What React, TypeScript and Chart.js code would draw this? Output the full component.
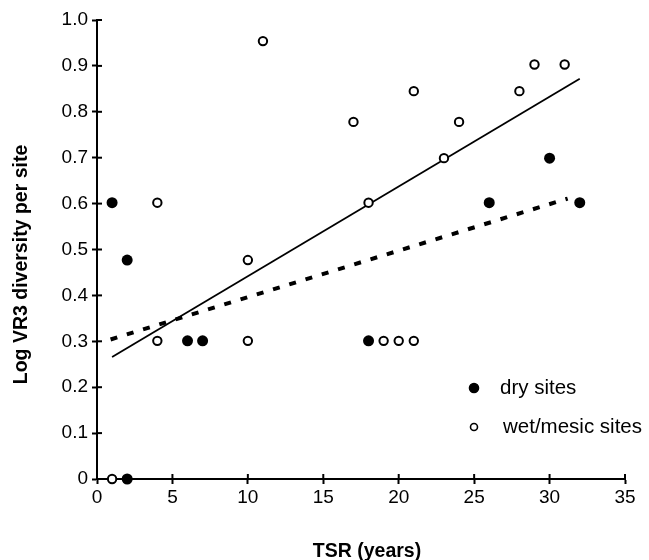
import React, { useEffect, useRef } from 'react';
import { Chart, registerables } from 'chart.js';

Chart.register(...registerables);

const dryX = [1, 2, 2, 6, 7, 18, 26, 30, 32];
const dryY = [0.602, 0.477, 0, 0.301, 0.301, 0.301, 0.602, 0.699, 0.602];
const wetX = [1, 4, 4, 10, 10, 11, 17, 18, 19, 20, 21, 21, 23, 24, 28, 29, 31];
const wetY = [0, 0.602, 0.301, 0.477, 0.301, 0.954, 0.778, 0.602, 0.301, 0.301, 0.301, 0.845, 0.699, 0.778, 0.845, 0.903, 0.903];
const allFitX = [1, 32];
const allFitY = [0.266, 0.872];
const dryFitX = [0.9, 31.2];
const dryFitY = [0.304, 0.611];
const seriesLabels = ['dry sites', 'wet/mesic sites'];
const xTitle = 'TSR (years)';
const yTitle = 'Log VR3 diversity per site';

const FONT = '"Liberation Sans", Arial, sans-serif';

const zip = (xs: number[], ys: number[]) => xs.map((x, i) => ({ x, y: ys[i] }));

const crossTicks = {
  id: 'crossTicks',
  afterDraw(chart: any) {
    const { ctx, chartArea, scales } = chart;
    ctx.save();
    ctx.strokeStyle = '#000';
    ctx.lineWidth = 2;
    scales.x.ticks.forEach((t: any) => {
      const px = scales.x.getPixelForValue(t.value);
      ctx.beginPath();
      ctx.moveTo(px, chartArea.bottom);
      ctx.lineTo(px, chartArea.bottom - 5);
      ctx.stroke();
    });
    scales.y.ticks.forEach((t: any) => {
      const py = scales.y.getPixelForValue(t.value);
      ctx.beginPath();
      ctx.moveTo(chartArea.left, py);
      ctx.lineTo(chartArea.left + 5, py);
      ctx.stroke();
    });
    ctx.restore();
  },
};

const axisTitles = {
  id: 'axisTitles',
  afterDraw(chart: any) {
    const { ctx, chartArea } = chart;
    ctx.save();
    ctx.fillStyle = '#000';
    ctx.font = `bold 19.5px ${FONT}`;
    ctx.textAlign = 'center';
    ctx.textBaseline = 'alphabetic';
    ctx.fillText(xTitle, (chartArea.left + chartArea.right) / 2 + 6, chartArea.bottom + 78);
    ctx.translate(chartArea.left - 70, (chartArea.top + chartArea.bottom) / 2 + 15);
    ctx.rotate(-Math.PI / 2);
    ctx.fillText(yTitle, 0, 0);
    ctx.restore();
  },
};

const insideLegend = {
  id: 'insideLegend',
  afterDatasetsDraw(chart: any) {
    const { ctx, chartArea } = chart;
    const items = chart.data.datasets.filter((d: any) => d.label);
    items.forEach((ds: any, i: number) => {
      const x = chartArea.right - 151;
      const y = chartArea.bottom - 91 + i * 39;
      ctx.save();
      ctx.beginPath();
      ctx.arc(x, y, i === 0 ? 4.5 : 3.5, 0, Math.PI * 2);
      ctx.fillStyle = ds.pointBackgroundColor;
      ctx.fill();
      ctx.lineWidth = 1.6;
      ctx.strokeStyle = ds.pointBorderColor;
      ctx.stroke();
      ctx.fillStyle = '#000';
      ctx.font = `20.5px ${FONT}`;
      ctx.textBaseline = 'middle';
      ctx.textAlign = 'left';
      ctx.fillText(ds.label, x + 26 + i * 3, y);
      ctx.restore();
    });
  },
};

export default function App() {
  const ref = useRef<HTMLCanvasElement | null>(null);
  useEffect(() => {
    if (!ref.current) return;
    const chart = new Chart(ref.current, {
      type: 'scatter',
      data: {
        datasets: [
          {
            label: seriesLabels[0],
            data: zip(dryX, dryY),
            pointRadius: 5.5,
            pointBackgroundColor: '#000',
            pointBorderColor: '#000',
            pointBorderWidth: 0,
            clip: false,
          } as any,
          {
            label: seriesLabels[1],
            data: zip(wetX, wetY),
            pointRadius: 4.2,
            pointBackgroundColor: '#fff',
            pointBorderColor: '#000',
            pointBorderWidth: 2,
            clip: false,
          } as any,
          {
            data: zip(allFitX, allFitY),
            showLine: true,
            borderColor: '#000',
            borderWidth: 1.8,
            pointRadius: 0,
          } as any,
          {
            data: zip(dryFitX, dryFitY),
            showLine: true,
            borderColor: '#000',
            borderWidth: 4,
            borderDash: [7, 10],
            pointRadius: 0,
          } as any,
        ],
      },
      options: {
        animation: false,
        responsive: false,
        layout: { padding: { left: 0, right: 24, top: 20, bottom: 0 } },
        plugins: { legend: { display: false }, tooltip: { enabled: false } },
        scales: {
          x: {
            type: 'linear',
            min: 0,
            max: 35,
            afterFit: (s: any) => { s.height = 81; },
            ticks: { stepSize: 5, color: '#000', font: { family: FONT, size: 19 }, padding: 2, maxRotation: 0 },
            grid: { drawOnChartArea: false, drawTicks: true, tickLength: 5, tickWidth: 2, color: '#000' },
            border: { color: '#000', width: 2 },
            title: { display: false },
          },
          y: {
            type: 'linear',
            min: 0,
            max: 1,
            afterFit: (s: any) => { s.width = 97; },
            ticks: {
              stepSize: 0.1,
              color: '#000',
              font: { family: FONT, size: 19 },
              padding: 4,
              callback: (v: any) => (Number(v) === 0 ? '0' : Number(v).toFixed(1)),
            },
            grid: { drawOnChartArea: false, drawTicks: true, tickLength: 5, tickWidth: 2, color: '#000' },
            border: { color: '#000', width: 2 },
            title: { display: false },
          },
        },
      },
      plugins: [crossTicks, insideLegend, axisTitles],
    });
    return () => chart.destroy();
  }, []);
  return (
    <div style={{ position: 'absolute', left: 0, top: 0, width: 649, height: 560, background: '#fff' }}>
      <canvas ref={ref} width={649} height={560} style={{ width: 649, height: 560, display: 'block' }} />
    </div>
  );
}
